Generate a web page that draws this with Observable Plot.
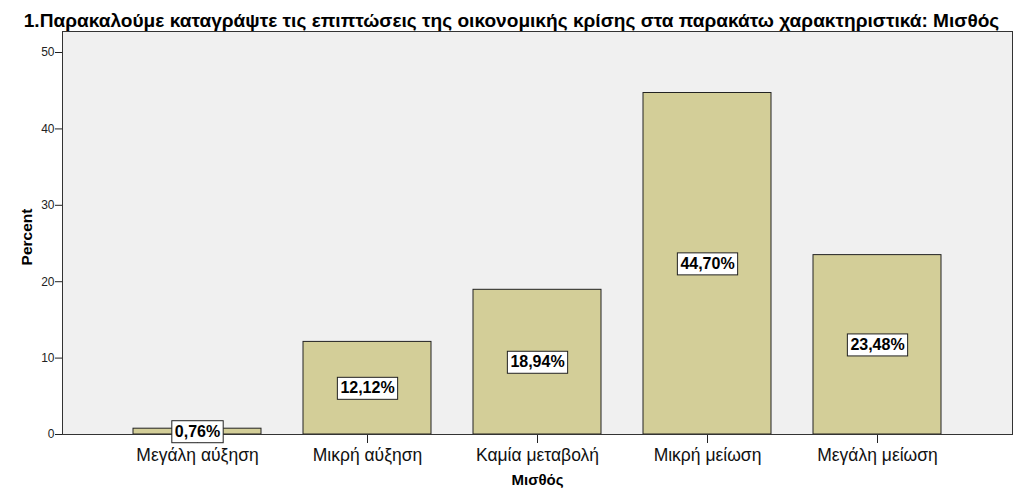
<!DOCTYPE html>
<html>
<head>
<meta charset="utf-8">
<script src="https://cdn.jsdelivr.net/npm/d3@7"></script>
<script src="https://cdn.jsdelivr.net/npm/@observablehq/plot@0.6"></script>
<style>
  html, body { margin: 0; padding: 0; background: #fff; }
  #chart svg { display: block; }
</style>
</head>
<body>
<div id="chart"></div>
<script>
const title = "1.Παρακαλούμε καταγράψτε τις επιπτώσεις της οικονομικής κρίσης στα παρακάτω χαρακτηριστικά: Μισθός";
const categories = ["Μεγάλη αύξηση", "Μικρή αύξηση", "Καμία μεταβολή", "Μικρή μείωση", "Μεγάλη μείωση"];
const percents = [0.76, 12.12, 18.94, 44.70, 23.48];
const valueLabels = ["0,76%", "12,12%", "18,94%", "44,70%", "23,48%"];
const yTicks = [0, 10, 20, 30, 40, 50];
const xLabel = "Μισθός";
const yLabel = "Percent";

const data = categories.map((c, i) => ({cat: c, value: percents[i], label: valueLabels[i]}));
const font = "'Liberation Sans', Arial, sans-serif";

const plot = Plot.plot({
  width: 1024,
  height: 503,
  marginLeft: 62,
  marginRight: 12,
  marginTop: 31,
  marginBottom: 69,
  style: {fontFamily: font, background: "#fff", overflow: "visible"},
  x: {domain: categories, paddingInner: 0.25, paddingOuter: 0.403, label: null},
  y: {domain: [0, 52.75], label: null},
  marks: [
    Plot.frame({fill: "#f0f0f0", stroke: "none"}),
    Plot.barY(data, {x: "cat", y: "value", fill: "#d3ce98", stroke: "#222", strokeWidth: 1}),
    Plot.axisY({ticks: yTicks, tickSize: 7, tickPadding: 1, fontSize: 12, stroke: "#222", color: "#222"}),
    Plot.axisX({tickSize: 9, tickPadding: 5, fontSize: 17.5, stroke: "#222", color: "#111"}),
    Plot.frame({stroke: "#333", strokeWidth: 1}),
    Plot.text(data, {x: "cat", y: (d) => d.value / 2, text: "label", fontSize: 16, fontWeight: "bold", fill: "#000", className: "vlabel"}),
    Plot.text([title], {frameAnchor: "top", dy: -5, lineAnchor: "bottom", fontSize: 19.1, fontWeight: "bold", fill: "#000", dx: -26}),
    Plot.text([yLabel], {frameAnchor: "left", textAnchor: "middle", dx: -35, dy: 4, rotate: -90, fontSize: 15.5, fontWeight: "bold", fill: "#000"}),
    Plot.text([xLabel], {frameAnchor: "bottom", dy: 50, fontSize: 15, fontWeight: "bold", fill: "#000", dx: 0})
  ]
});

document.getElementById("chart").appendChild(plot);

// white boxes behind the value labels
plot.querySelectorAll("g.vlabel text").forEach((t) => {
  const b = t.getBBox();
  const padX = 3, padY = 3;
  const rect = document.createElementNS("http://www.w3.org/2000/svg", "rect");
  rect.setAttribute("x", b.x - padX);
  rect.setAttribute("y", b.y - padY + 1);
  rect.setAttribute("width", b.width + 2 * padX);
  rect.setAttribute("height", b.height + 2 * padY - 1);
  rect.setAttribute("fill", "#fff");
  rect.setAttribute("stroke", "#222");
  rect.setAttribute("stroke-width", "1");
  const tr = t.getAttribute("transform");
  if (tr) rect.setAttribute("transform", tr);
  t.parentNode.insertBefore(rect, t);
});
</script>
</body>
</html>
